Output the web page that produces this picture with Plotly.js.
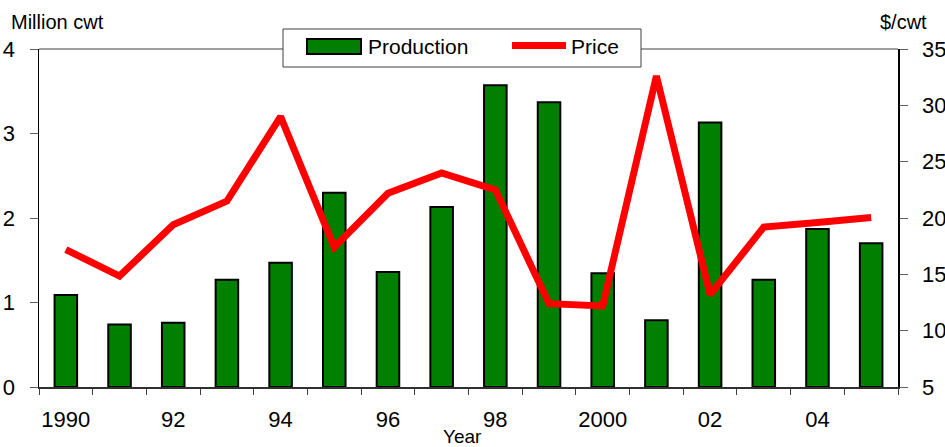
<!DOCTYPE html>
<html>
<head>
<meta charset="utf-8">
<script src="https://cdn.plot.ly/plotly-3.0.1.min.js"></script>
<style>
  html, body { margin: 0; padding: 0; background: #fff; }
  #chart { width: 945px; height: 447px; }
</style>
</head>
<body>
<div id="chart"></div>
<script>
// Annual production (million cwt) and season-average price ($/cwt)
const years = [1990, 1991, 1992, 1993, 1994, 1995, 1996, 1997,
               1998, 1999, 2000, 2001, 2002, 2003, 2004, 2005];
const production = [1.09, 0.74, 0.76, 1.27, 1.47, 2.30, 1.36, 2.13,
                    3.57, 3.37, 1.345, 0.79, 3.13, 1.27, 1.87, 1.70];
const price = [17.2, 14.85, 19.4, 21.5, 29.0, 17.4, 22.2, 24.0,
               22.5, 12.4, 12.2, 32.6, 13.2, 19.2, 19.6, 20.05];
const yearTickVals = [1990, 1992, 1994, 1996, 1998, 2000, 2002, 2004];
const yearTickText = ['1990', '92', '94', '96', '98', '2000', '02', '04'];
const leftTicks = [0, 1, 2, 3, 4];
const rightTicks = [5, 10, 15, 20, 25, 30, 35];

const FONT = '"Liberation Sans", Arial, Helvetica, sans-serif';
const GREEN = '#007f00';
const RED = '#ff0000';

// category boundaries for the x tick marks
const boundaries = years.map(y => y - 0.5).concat([years[years.length - 1] + 0.5]);

const traces = [
  {
    type: 'bar', name: 'Production', x: years, y: production,
    width: 0.42,
    marker: { color: GREEN, line: { color: '#000', width: 2 } },
    xaxis: 'x', yaxis: 'y', showlegend: false, hoverinfo: 'x+y'
  },
  {
    type: 'scatter', mode: 'lines', name: 'Price', x: years, y: price,
    line: { color: RED, width: 7 },
    xaxis: 'x', yaxis: 'y2', showlegend: false, hoverinfo: 'x+y'
  }
];

// plot-area geometry in pixels, used to place the legend box
const W = 945, H = 447, mL = 39, mR = 47, mT = 49, mB = 60;
const pw = W - mL - mR, ph = H - mT - mB;
const px = v => (v - mL) / pw;
const py = v => (H - mB - v) / ph;

const layout = {
  width: W, height: H,
  margin: { l: mL, r: mR, t: mT, b: mB, pad: 0 },
  paper_bgcolor: '#fff', plot_bgcolor: '#fff',
  font: { family: FONT, size: 22, color: '#000' },
  showlegend: false,
  bargap: 0.58,
  xaxis: {
    range: [1989.5, 2005.5],
    tickmode: 'array', tickvals: yearTickVals, ticktext: yearTickText,
    ticks: '', ticklabelstandoff: 12,
    tickfont: { size: 22 },
    minor: { tickmode: 'array', tickvals: boundaries, ticks: 'outside',
             ticklen: 6, tickwidth: 1, tickcolor: '#404040', showgrid: false },
    showline: true, linecolor: '#303030', linewidth: 1.5,
    showgrid: false, zeroline: false, fixedrange: true
  },
  yaxis: {
    range: [0, 4], tickmode: 'array', tickvals: leftTicks,
    ticks: 'outside', ticklen: 8, tickwidth: 1, tickcolor: '#606060',
    ticklabelstandoff: 10,
    showline: true, linecolor: '#000', linewidth: 1.5,
    showgrid: false, zeroline: false, fixedrange: true
  },
  yaxis2: {
    range: [5, 35], tickmode: 'array', tickvals: rightTicks,
    overlaying: 'y', side: 'right',
    ticks: 'outside', ticklen: 8, tickwidth: 1, tickcolor: '#606060',
    ticklabelstandoff: 10,
    showline: true, linecolor: '#000', linewidth: 1.5,
    showgrid: false, zeroline: false, fixedrange: true
  },
  shapes: [
    // top border of the plot area
    { type: 'line', xref: 'paper', yref: 'paper', x0: 0, x1: 1, y0: 1, y1: 1,
      line: { color: '#808080', width: 1.5 }, layer: 'below' },
    // legend box
    { type: 'rect', xref: 'paper', yref: 'paper',
      x0: px(283), x1: px(641), y0: py(67), y1: py(29),
      fillcolor: '#fff', line: { color: '#404040', width: 1 } },
    // legend swatch: bar
    { type: 'rect', xref: 'paper', yref: 'paper',
      x0: px(307), x1: px(361), y0: py(54), y1: py(39),
      fillcolor: GREEN, line: { color: '#000', width: 2 } },
    // legend swatch: line
    { type: 'line', xref: 'paper', yref: 'paper',
      x0: px(512), x1: px(566), y0: py(45.5), y1: py(45.5),
      line: { color: RED, width: 7 } }
  ],
  annotations: [
    { text: 'Production', xref: 'paper', yref: 'paper', x: px(366), y: py(47),
      xanchor: 'left', yanchor: 'middle', showarrow: false, font: { size: 21 } },
    { text: 'Price', xref: 'paper', yref: 'paper', x: px(569), y: py(47),
      xanchor: 'left', yanchor: 'middle', showarrow: false, font: { size: 21 } },
    { text: 'Million cwt', xref: 'paper', yref: 'paper', x: px(9), y: py(22),
      xanchor: 'left', yanchor: 'middle', showarrow: false, font: { size: 20 } },
    { text: '$/cwt', xref: 'paper', yref: 'paper', x: px(929), y: py(22),
      xanchor: 'right', yanchor: 'middle', showarrow: false, font: { size: 20 } },
    { text: 'Year', xref: 'paper', yref: 'paper', x: px(462), y: py(436),
      xanchor: 'center', yanchor: 'middle', showarrow: false, font: { size: 19 } }
  ]
};

Plotly.newPlot('chart', traces, layout, { displayModeBar: false, staticPlot: true });
</script>
</body>
</html>
